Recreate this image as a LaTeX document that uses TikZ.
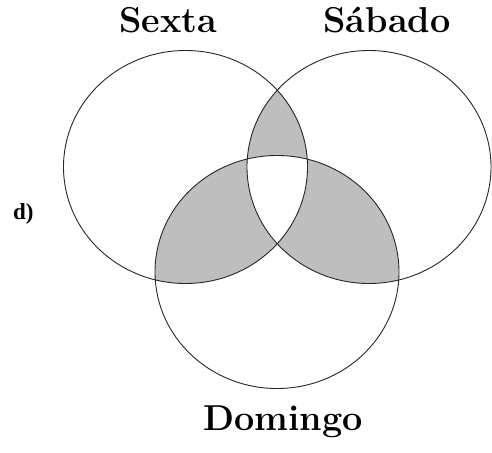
\documentclass[tikz,border=0pt]{standalone}
\usepackage{fontspec}
\newfontfamily\timesb{Liberation Serif}
\definecolor{venngray}{RGB}{190,190,190}
\begin{document}
\begin{tikzpicture}[x=1pt,y=-1pt,
  setline/.style={line width=0.9pt,draw=black!85},
  lab/.style={font=\fontsize{36}{40}\selectfont\bfseries,anchor=base,inner sep=0pt}]
\useasboundingbox (0,0) rectangle (492,452);
\def\ES{(185.5,167) ellipse [x radius=122, y radius=116.5]}
\def\EB{(369,167) ellipse [x radius=122, y radius=116.5]}
\def\ED{(277,272) ellipse [x radius=122, y radius=116.5]}
\begin{scope}
  \clip \ES; \fill[venngray] \EB; \fill[venngray] \ED;
\end{scope}
\begin{scope}
  \clip \EB; \fill[venngray] \ED;
\end{scope}
\begin{scope}
  \clip \ES; \clip \EB; \fill[white] \ED;
\end{scope}
\draw[setline] \ES;
\draw[setline] \EB;
\draw[setline] \ED;
\node[lab] (sexta) at (168,33) {Sexta};
\node[lab] (sabado) at (387,33) {Sábado};
\node[lab] (domingo) at (283,430) {Domingo};
\node[font=\timesb\fontsize{23}{26}\selectfont\bfseries,anchor=base west,inner sep=0pt] (d) at (13,219) {d)};
\end{tikzpicture}
\end{document}
